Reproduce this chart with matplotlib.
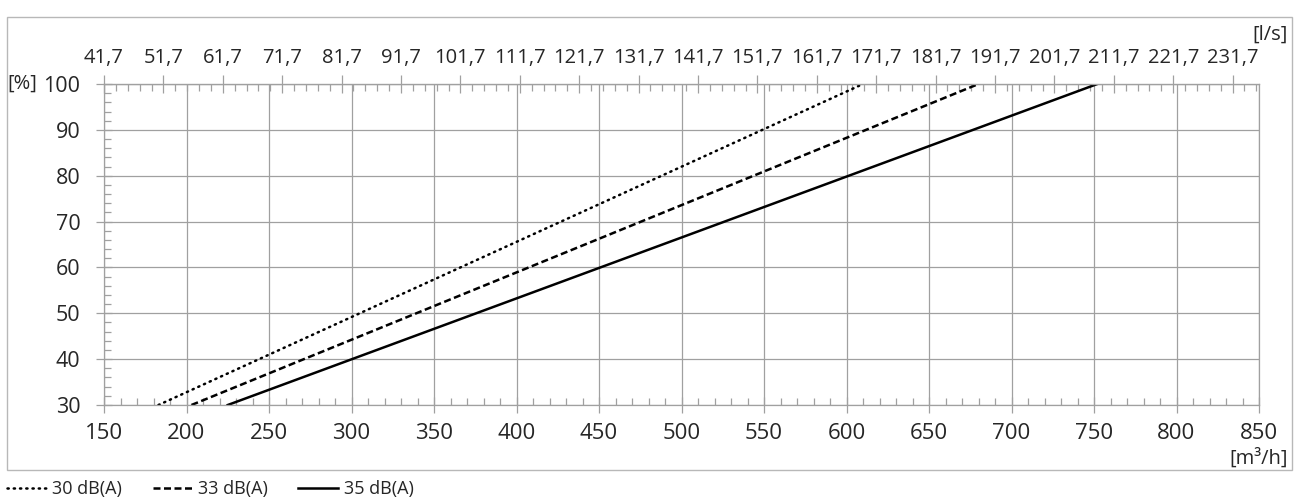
import numpy as np
import matplotlib.pyplot as plt
from matplotlib.patches import Rectangle
from matplotlib.ticker import FixedLocator, MultipleLocator, FuncFormatter

plt.rcParams['font.family'] = ['Open Sans', 'DejaVu Sans']

# air flow [m3/h] at the 30 % and 100 % ends of each curve
pct = [30, 100]
flow_30db = [183, 610]
flow_33db = [203, 680]
flow_35db = [225, 752]
labels = ["30 dB(A)", "33 dB(A)", "35 dB(A)"]

x_ticks = np.arange(150, 851, 50)
y_ticks = np.arange(30, 101, 10)

W, H = 1299, 498
fig = plt.figure(figsize=(W / 100, H / 100), dpi=100)
ax = fig.add_axes([104 / W, 1 - 405 / H, (1259 - 104) / W, (405 - 84) / H])

txt = "#262626"
grid = "#a0a0a0"

l1, = ax.plot(flow_30db, pct, color="black", lw=1.8, linestyle=(0, (0.5, 2.0)),
              dash_capstyle="round")
l2, = ax.plot(flow_33db, pct, color="black", lw=1.8, linestyle=(0, (2.8, 1.4)))
l3, = ax.plot(flow_35db, pct, color="black", lw=1.8)

ax.set_xlim(150, 850)
ax.set_ylim(30, 100)
ax.set_xticks(x_ticks)
ax.set_yticks(y_ticks)
ax.xaxis.set_minor_locator(MultipleLocator(10))
ax.yaxis.set_minor_locator(MultipleLocator(2))
ax.grid(True, which="major", color=grid, lw=0.9)
for s in ax.spines.values():
    s.set_color(grid)
    s.set_linewidth(0.9)

ax.tick_params(which="major", direction="inout", length=12, width=0.9,
               color=grid, labelcolor=txt)
ax.tick_params(axis="x", which="major", pad=7, labelsize=16)
ax.tick_params(axis="y", which="major", pad=11, labelsize=15.5)
ax.tick_params(which="minor", direction="in", length=5, width=0.9, color=grid)

# top axis in l/s
sec = ax.secondary_xaxis("top", functions=(lambda q: q / 3.6, lambda q: q * 3.6))
sec.xaxis.set_major_locator(FixedLocator(np.arange(150 / 3.6, 850 / 3.6, 10)))
sec.xaxis.set_minor_locator(FixedLocator(np.arange(150 / 3.6, 850 / 3.6 + 0.01, 2)))
sec.xaxis.set_major_formatter(FuncFormatter(lambda v, p: f"{v:.1f}".replace(".", ",")))
sec.tick_params(which="major", direction="inout", length=13, width=0.9,
                color=grid, labelsize=14.5, labelcolor=txt, pad=5)
sec.tick_params(which="minor", direction="in", length=5, width=0.9, color=grid)
sec.spines["top"].set_color(grid)

fig.text(7 / W, 1 - 84 / H, "[%]", fontsize=14.5, color=txt, va="center", ha="left")
fig.text(1288 / W, 1 - 35 / H, "[l/s]", fontsize=14.5, color=txt, va="center", ha="right")
fig.text(1288 / W, 1 - 459 / H, "[m\u00b3/h]", fontsize=14.5, color=txt, va="center", ha="right")

fig.patches.append(Rectangle((6.5 / W, 1 - 470 / H), (1292 - 6.5) / W, (470 - 17) / H,
                             transform=fig.transFigure, fill=False,
                             edgecolor="#b8b8b8", lw=1.0))

fig.legend([l1, l2, l3], labels, loc="center left", bbox_to_anchor=(7 / W, 1 - 489 / H),
           ncol=3, frameon=False, fontsize=13, handlelength=2.2, handletextpad=0.3,
           columnspacing=1.7, borderaxespad=0, borderpad=0, labelcolor=txt)

fig.savefig("out.png", dpi=100)
